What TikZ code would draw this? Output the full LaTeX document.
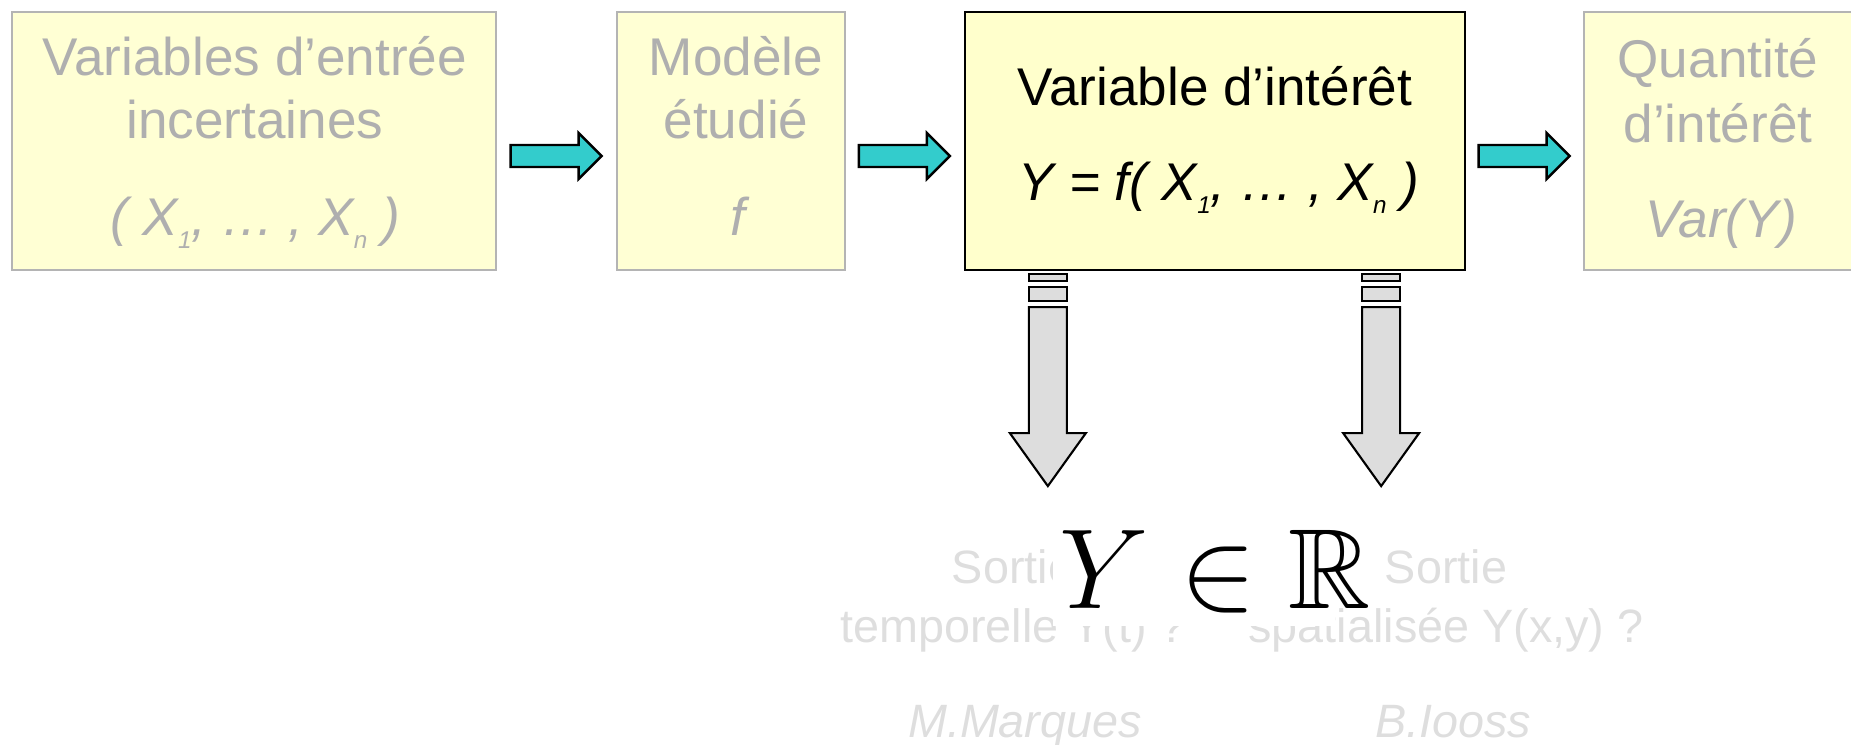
\documentclass[tikz,border=0pt]{standalone}
\usepackage{fix-cm}
\usepackage{amssymb}
\usepackage{fontspec}
\setmainfont{Liberation Sans}
\usepackage{xcolor}
\usetikzlibrary{calc}

\definecolor{ghostfill}{RGB}{255,255,212}
\definecolor{ghostline}{RGB}{180,180,180}
\definecolor{ghosttext}{RGB}{175,175,175}
\definecolor{focusfill}{RGB}{255,255,204}
\definecolor{flowteal}{RGB}{51,204,204}
\definecolor{outgray}{RGB}{221,221,221}
\definecolor{fainttext}{RGB}{222,222,222}

\newcommand{\idx}[1]{\raisebox{-3.7pt}{\fontsize{6.9}{8}\selectfont #1}}

\begin{document}
\begin{tikzpicture}[
    x=0.01cm, y=-0.01cm,
    ghost/.style={rectangle, draw=ghostline, fill=ghostfill, line width=0.6pt,
                  inner sep=0pt, outer sep=0pt, minimum height=2.58cm},
    focus/.style={rectangle, draw=black, fill=focusfill, line width=0.7pt,
                  inner sep=0pt, outer sep=0pt, minimum height=2.58cm},
    ghosttxt/.style={anchor=base, text=ghosttext, font=\fontsize{15.1}{18}\selectfont},
    focustxt/.style={anchor=base, text=black, font=\fontsize{15.1}{18}\selectfont},
    faint/.style={anchor=base, text=fainttext, font=\fontsize{13.3}{16}\selectfont},
    flow/.style={draw=black, fill=flowteal, line width=0.7pt},
    outarr/.style={draw=black, fill=outgray, line width=0.6pt}
]
\useasboundingbox (0,0) rectangle (1851,744);

% --- chain of boxes (top) ---
\node[ghost, minimum width=4.84cm] (inp) at ( 254,141) {};
\node[ghost, minimum width=2.28cm] (mod) at ( 731,141) {};
\node[focus, minimum width=5.00cm] (var) at (1215,141) {};
\node[ghost, minimum width=2.68cm] (qty) at (1718,141) {};

\node[ghosttxt] (inp-a) at (255, 75) {Variables d'entrée};
\node[ghosttxt] (inp-b) at (255,138) {incertaines};
\node[ghosttxt] (inp-c) at (255,235) {\itshape ( X\idx{1}, … , X\idx{n} )};

\node[ghosttxt] (mod-a) at (736, 75) {Modèle};
\node[ghosttxt] (mod-b) at (736,138) {étudié};
\node[ghosttxt] (mod-c) at (738,235) {\itshape f};

\node[focustxt] (var-a) at (1215,105) {Variable d'intérêt};
\node[focustxt] (var-b) at (1219,200) {\itshape Y = f( X\idx{1}, … , X\idx{n} )};

\node[ghosttxt] (qty-a) at (1718, 77) {Quantité};
\node[ghosttxt] (qty-b) at (1718,142) {d'intérêt};
\node[ghosttxt] (qty-c) at (1721,237) {\itshape Var(Y)};

% block arrows between boxes
\foreach \a/\b in {inp/mod, mod/var, var/qty} {
    \coordinate (m) at ($(\a.east)!0.5!(\b.west)+(0,15)$);
    \draw[flow] ($(m)+(-46,-11)$) -- ++(68,0) -- ++(0,-12) -- ++(23,23)
        -- ++(-23,23) -- ++(0,-12) -- ++(-68,0) -- cycle;
}

% --- two outputs (bottom) ---
\coordinate (dl) at ($(var.south west)+(83,0)$);
\coordinate (dr) at ($(var.south east)+(-84,0)$);
\foreach \c in {dl, dr} {
    \draw[outarr] ($(\c)+(-19,4)$) rectangle ++(38,7);
    \draw[outarr] ($(\c)+(-19,17)$) rectangle ++(38,14);
    \draw[outarr] ($(\c)+(-19,37)$) -- ++(0,126) -- ++(-19,0) -- ++(38,53)
        -- ++(38,-53) -- ++(-19,0) -- ++(0,-126) -- cycle;
}

\node[faint] (tout-a) at (1013,583) {Sortie};
\node[faint] (tout-b) at (1013,642) {temporelle Y(t) ?};
\node[faint] (sout-a) at (1446,583) {Sortie};
\node[faint] (sout-b) at (1446,642) {spatialisée Y(x,y) ?};
\node[faint, font=\fontsize{13.3}{16}\selectfont\itshape] (auth-t) at (1025,737) {M.Marques};
\node[faint, font=\fontsize{13.3}{16}\selectfont\itshape] (auth-s) at (1453,737) {B.Iooss};

% formula pasted over the outputs
\fill[white] (1053,515) rectangle (1335,626);
\node[anchor=base, font=\fontsize{32.4}{39}\selectfont] (yinr) at (1215,608) {$Y \in \mathbb{R}$};

\end{tikzpicture}
\end{document}
